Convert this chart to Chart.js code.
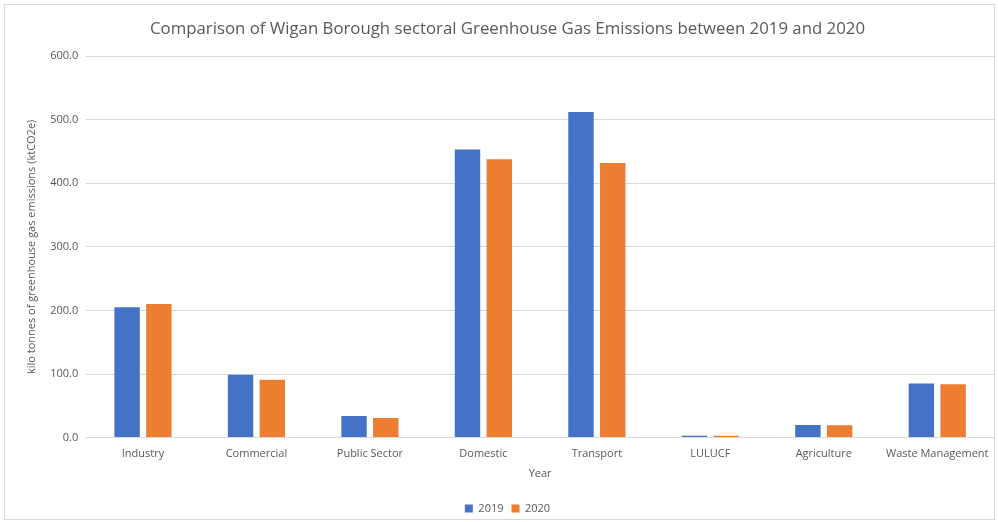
<!DOCTYPE html>
<html>
<head>
<meta charset="utf-8">
<script src="https://cdn.jsdelivr.net/npm/chart.js@4/dist/chart.umd.min.js"></script>
<style>
  html,body{margin:0;padding:0;background:#fff;}
  #wrap{position:absolute;left:4px;top:4px;width:991px;height:516px;border:1px solid #d9d9d9;box-sizing:border-box;}
</style>
</head>
<body>
<div id="wrap"><canvas id="chart"></canvas></div>
<script>
const sectors=["Industry","Commercial","Public Sector","Domestic","Transport","LULUCF","Agriculture","Waste Management"]
const values2019=[205,99,34,453,512,3,20,85]
const values2020=[210,91,31,438,432,3,19.5,84]
const yTicks=[0,100,200,300,400,500,600]

const grey="#595959"
const font="'Open Sans', 'Liberation Sans', sans-serif"

var ctx=document.getElementById('chart').getContext('2d')
var myChart=new Chart(ctx,{
  type:'bar',
  data:{
    labels:sectors,
    datasets:[
      {label:'2019',data:values2019,backgroundColor:'#4472C4',borderColor:'#4472C4',categoryPercentage:0.56,barPercentage:0.8},
      {label:'2020',data:values2020,backgroundColor:'#ED7D31',borderColor:'#ED7D31',categoryPercentage:0.56,barPercentage:0.8}
    ]
  },
  options:{
    responsive:true,
    maintainAspectRatio:false,
    animation:false,
    layout:{padding:{left:16,right:0,top:0,bottom:-5}},
    plugins:{
      title:{display:true,text:'Comparison of Wigan Borough sectoral Greenhouse Gas Emissions between 2019 and 2020',
        color:grey,font:{family:font,size:16.8,weight:'normal'},padding:{top:14,bottom:17}},
      legend:{position:'bottom',labels:{boxWidth:8,boxHeight:8,color:grey,font:{family:font,size:11},padding:8}},
      tooltip:{enabled:false}
    },
    scales:{
      x:{
        grid:{display:false},
        border:{display:false},
        ticks:{color:grey,font:{family:font,size:11},maxRotation:0,autoSkip:false,padding:2},
        title:{display:true,text:'Year',color:grey,font:{family:font,size:11},padding:{top:4,bottom:15}}
      },
      y:{
        min:0,max:600,
        afterBuildTicks:axis=>{axis.ticks=yTicks.map(v=>({value:v}))},
        grid:{color:'#d9d9d9',drawTicks:false,lineWidth:1},
        border:{display:false},
        ticks:{color:grey,font:{family:font,size:11},padding:8,callback:v=>v.toFixed(1)},
        title:{display:true,text:'kilo tonnes of greenhouse gas emissions (ktCO2e)',color:grey,font:{family:font,size:11},padding:{bottom:4}}
      }
    }
  }
})
</script>
</body>
</html>
